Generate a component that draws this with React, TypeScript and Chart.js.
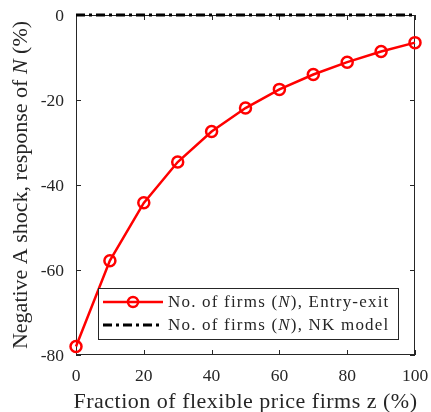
import React, { useEffect, useRef } from "react";
import { Chart, registerables } from "chart.js";

Chart.register(...registerables);

const zValues = [0, 10, 20, 30, 40, 50, 60, 70, 80, 90, 100];
const entryExit = [-78, -57.8, -44.2, -34.6, -27.4, -21.9, -17.5, -14.0, -11.1, -8.6, -6.5];
const nkModel = [0, 0, 0, 0, 0, 0, 0, 0, 0, 0, 0];
const xTicks = [0, 20, 40, 60, 80, 100];
const yTicks = [0, -20, -40, -60, -80];
const xTitle = "Fraction of flexible price firms z (%)";
const yTitleParts = ["Negative A shock, response of ", "N", " (%)"];
const legendLabels = [
  ["No. of firms (", "N", "), Entry-exit"],
  ["No. of firms (", "N", "), NK model"],
];

const FONT = "'Liberation Serif', 'DejaVu Serif', serif";
const TXT = "#262626";

function drawParts(ctx: any, parts: string[], x: number, y: number, size: number, spacing: number) {
  ctx.letterSpacing = spacing + "px";
  parts.forEach((p, j) => {
    ctx.font = (j === 1 ? "italic " : "") + size + "px " + FONT;
    ctx.fillText(p, x, y);
    x += ctx.measureText(p).width;
  });
  ctx.letterSpacing = "0px";
}
function widthParts(ctx: any, parts: string[], size: number, spacing: number) {
  ctx.letterSpacing = spacing + "px";
  let t = 0;
  parts.forEach((p, j) => {
    ctx.font = (j === 1 ? "italic " : "") + size + "px " + FONT;
    t += ctx.measureText(p).width;
  });
  ctx.letterSpacing = "0px";
  return t;
}

const boxPlugin = {
  id: "boxTicks",
  beforeDatasetsDraw(chart: any) {
    const { ctx, chartArea: a, scales } = chart;
    ctx.save();
    ctx.strokeStyle = TXT;
    ctx.lineWidth = 1;
    ctx.strokeRect(a.left + 0.5, a.top + 0.5, a.right - a.left - 1, a.bottom - a.top - 1);
    const tl = 5;
    ctx.beginPath();
    for (const v of xTicks) {
      const x = Math.round(scales.x.getPixelForValue(v)) + 0.5;
      ctx.moveTo(x, a.bottom); ctx.lineTo(x, a.bottom - tl);
      ctx.moveTo(x, a.top); ctx.lineTo(x, a.top + tl);
    }
    for (const v of yTicks) {
      const y = Math.round(scales.y.getPixelForValue(v)) + 0.5;
      ctx.moveTo(a.left, y); ctx.lineTo(a.left + tl, y);
      ctx.moveTo(a.right, y); ctx.lineTo(a.right - tl, y);
    }
    ctx.stroke();
    ctx.restore();
  },
  afterDraw(chart: any) {
    const { ctx, chartArea: a, scales } = chart;
    ctx.save();
    ctx.fillStyle = TXT;
    ctx.font = "17.5px " + FONT;
    ctx.textBaseline = "middle";
    ctx.textAlign = "right";
    for (const v of yTicks) ctx.fillText(String(v), a.left - 12, scales.y.getPixelForValue(v) + 1);
    ctx.textAlign = "center";
    for (const v of xTicks) ctx.fillText(String(v), scales.x.getPixelForValue(v), a.bottom + 21);
    ctx.textBaseline = "alphabetic";
    ctx.font = "22px " + FONT;
    ctx.letterSpacing = "0.5px";
    ctx.fillText(xTitle, (a.left + a.right) / 2, 408);
    ctx.letterSpacing = "0px";
    ctx.textAlign = "left";

    const bx = a.left + 22, by = a.bottom - 67, bw = 300, bh = 51;
    ctx.fillStyle = "#fff";
    ctx.fillRect(bx, by, bw, bh);
    ctx.strokeStyle = TXT;
    ctx.lineWidth = 1;
    ctx.strokeRect(bx + 0.5, by + 0.5, bw, bh);
    const rows = [by + 14, by + 37];
    ctx.strokeStyle = "#ff0000";
    ctx.lineWidth = 2.5;
    ctx.beginPath(); ctx.moveTo(bx + 5, rows[0]); ctx.lineTo(bx + 65, rows[0]); ctx.stroke();
    ctx.beginPath(); ctx.arc(bx + 35, rows[0], 5, 0, Math.PI * 2); ctx.stroke();
    ctx.strokeStyle = "#000";
    ctx.lineWidth = 3;
    ctx.setLineDash([9, 4, 3, 4]);
    ctx.beginPath(); ctx.moveTo(bx + 5, rows[1]); ctx.lineTo(bx + 65, rows[1]); ctx.stroke();
    ctx.setLineDash([]);
    ctx.fillStyle = TXT;
    ctx.textBaseline = "middle";
    legendLabels.forEach((parts, i) => drawParts(ctx, parts, bx + 70, rows[i] + 1, 17, 1.2));

    ctx.textBaseline = "alphabetic";
    ctx.translate(27, (a.top + a.bottom) / 2);
    ctx.rotate(-Math.PI / 2);
    const total = widthParts(ctx, yTitleParts, 22, 0);
    drawParts(ctx, yTitleParts, -total / 2, 0, 22, 0);
    ctx.restore();
  },
};

export default function App() {
  const ref = useRef<HTMLCanvasElement>(null);
  useEffect(() => {
    document.body.style.margin = "0";
    const chart = new Chart(ref.current!, {
      type: "line",
      data: {
        datasets: [
          {
            label: "Entry-exit",
            data: zValues.map((z, i) => ({ x: z, y: entryExit[i] })),
            borderColor: "#ff0000",
            borderWidth: 2.5,
            pointRadius: 5.5,
            pointBorderWidth: 2.5,
            pointBackgroundColor: "rgba(0,0,0,0)",
            pointBorderColor: "#ff0000",
            clip: false,
            order: 2,
          },
          {
            label: "NK model",
            data: zValues.map((z, i) => ({ x: z, y: nkModel[i] })),
            borderColor: "#000",
            borderWidth: 3,
            borderDash: [9, 4, 3, 4],
            pointRadius: 0,
            clip: false,
            order: 1,
          },
        ],
      },
      options: {
        animation: false,
        responsive: false,
        layout: { padding: { top: 15, right: 16, left: 0, bottom: 0 } },
        plugins: { legend: { display: false }, tooltip: { enabled: false } },
        scales: {
          x: {
            type: "linear",
            min: 0,
            max: 100,
            afterFit: (s: any) => { s.height = 57; },
            grid: { display: false },
            border: { display: false },
            ticks: { display: false },
          },
          y: {
            type: "linear",
            min: -80,
            max: 0,
            afterFit: (s: any) => { s.width = 76; },
            grid: { display: false },
            border: { display: false },
            ticks: { display: false },
          },
        },
      },
      plugins: [boxPlugin],
    });
    return () => chart.destroy();
  }, []);
  return (
    <div style={{ width: 431, height: 412, background: "#fff" }}>
      <canvas ref={ref} width={431} height={412} />
    </div>
  );
}
